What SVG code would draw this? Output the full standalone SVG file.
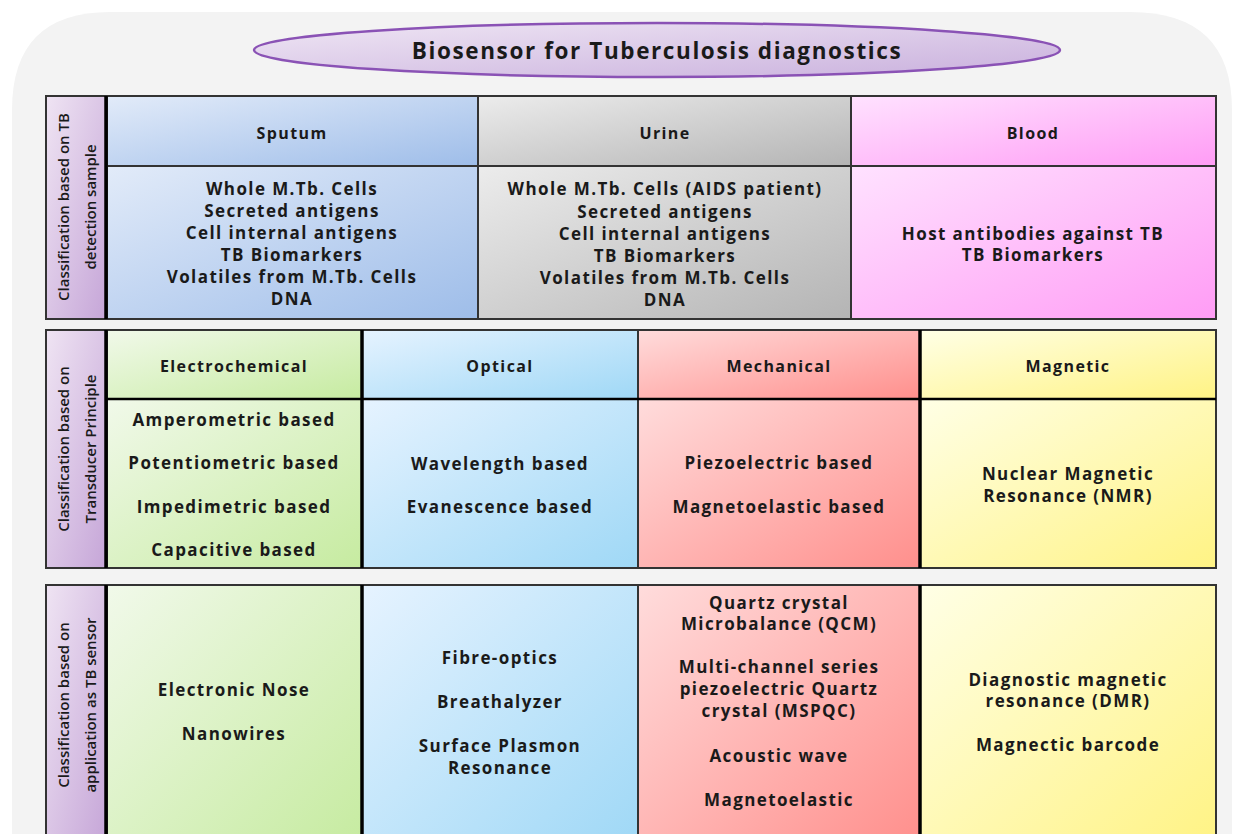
<svg xmlns="http://www.w3.org/2000/svg" width="1241" height="834" viewBox="0 0 1241 834">
<defs>
<linearGradient id="gLab" x1="0" y1="0" x2="1" y2="1"><stop offset="0" stop-color="#efe4f3"/><stop offset="1" stop-color="#c6a6d8"/></linearGradient>
<linearGradient id="gBlue" x1="0" y1="0" x2="1" y2="1"><stop offset="0" stop-color="#e2ebf9"/><stop offset="1" stop-color="#9ebde9"/></linearGradient>
<linearGradient id="gGray" x1="0" y1="0" x2="1" y2="1"><stop offset="0" stop-color="#ececec"/><stop offset="1" stop-color="#b4b4b4"/></linearGradient>
<linearGradient id="gPink" x1="0" y1="0" x2="1" y2="1"><stop offset="0" stop-color="#ffe2ff"/><stop offset="1" stop-color="#ff9cf5"/></linearGradient>
<linearGradient id="gGreen" x1="0" y1="0" x2="1" y2="1"><stop offset="0" stop-color="#f1f9ea"/><stop offset="1" stop-color="#c6eba0"/></linearGradient>
<linearGradient id="gCyan" x1="0" y1="0" x2="1" y2="1"><stop offset="0" stop-color="#e6f3ff"/><stop offset="1" stop-color="#9fd8f6"/></linearGradient>
<linearGradient id="gRed" x1="0" y1="0" x2="1" y2="1"><stop offset="0" stop-color="#ffdcdc"/><stop offset="1" stop-color="#ff8f8c"/></linearGradient>
<linearGradient id="gYel" x1="0" y1="0" x2="1" y2="1"><stop offset="0" stop-color="#ffffe6"/><stop offset="1" stop-color="#fff384"/></linearGradient>
<linearGradient id="gTitle" x1="0" y1="0" x2="1" y2="1"><stop offset="0" stop-color="#efe6f4"/><stop offset="1" stop-color="#c9b0dd"/></linearGradient>
</defs>
<style>
.cell{stroke:#333;stroke-width:2}
.sep{stroke:#000;stroke-width:3.5}
.t{font-family:"Open Sans",sans-serif;font-weight:700;font-size:17px;letter-spacing:1.4px;fill:#1a1a1a;text-anchor:middle}
.h{font-family:"Open Sans",sans-serif;font-weight:700;font-size:16px;letter-spacing:1.4px;fill:#1a1a1a;text-anchor:middle}
.lab{font-family:"Open Sans",sans-serif;font-weight:600;font-size:15px;fill:#1a1a1a;text-anchor:middle}
.title{font-family:"Open Sans",sans-serif;font-weight:700;font-size:22.5px;letter-spacing:1.6px;fill:#1a1a1a;text-anchor:middle}
</style>
<rect width="1241" height="834" fill="#ffffff"/>
<path d="M12,110 Q12,12 110,12 L1130,12 Q1232,12 1232,110 L1232,900 L12,900 Z" fill="#f3f3f3"/>

<g id="title">
<ellipse cx="657" cy="50" rx="403" ry="27" fill="url(#gTitle)" stroke="#8a52b5" stroke-width="2.5"/>
<text class="title" x="657" y="59">Biosensor for Tuberculosis diagnostics</text>
</g>

<!-- Section 1 -->
<g id="label-sample">
<rect class="cell" x="46" y="96" width="60" height="223" fill="url(#gLab)"/>
<text class="lab" transform="translate(69,207) rotate(-90)"><tspan x="0" y="0">Classification based on TB</tspan><tspan x="0" y="27">detection sample</tspan></text>
</g>
<g id="sputum-head"><rect class="cell" x="107" y="96" width="371" height="70" fill="url(#gBlue)"/><text class="h" x="292" y="139">Sputum</text></g>
<g id="urine-head"><rect class="cell" x="478" y="96" width="373" height="70" fill="url(#gGray)"/><text class="h" x="665" y="139">Urine</text></g>
<g id="blood-head"><rect class="cell" x="851" y="96" width="365" height="70" fill="url(#gPink)"/><text class="h" x="1033" y="139">Blood</text></g>
<g id="sputum-body"><rect class="cell" x="107" y="166" width="371" height="153" fill="url(#gBlue)"/>
<text class="t" x="292" y="195">Whole M.Tb. Cells</text>
<text class="t" x="292" y="217">Secreted antigens</text>
<text class="t" x="292" y="239">Cell internal antigens</text>
<text class="t" x="292" y="261">TB Biomarkers</text>
<text class="t" x="292" y="283">Volatiles from M.Tb. Cells</text>
<text class="t" x="292" y="305">DNA</text></g>
<g id="urine-body"><rect class="cell" x="478" y="166" width="373" height="153" fill="url(#gGray)"/>
<text class="t" x="665" y="195">Whole M.Tb. Cells (AIDS patient)</text>
<text class="t" x="665" y="218">Secreted antigens</text>
<text class="t" x="665" y="240">Cell internal antigens</text>
<text class="t" x="665" y="262">TB Biomarkers</text>
<text class="t" x="665" y="284">Volatiles from M.Tb. Cells</text>
<text class="t" x="665" y="306">DNA</text></g>
<g id="blood-body"><rect class="cell" x="851" y="166" width="365" height="153" fill="url(#gPink)"/>
<text class="t" x="1033" y="240">Host antibodies against TB</text>
<text class="t" x="1033" y="261">TB Biomarkers</text></g>
<line class="sep" x1="106" y1="96" x2="106" y2="319"/>

<!-- Section 2 -->
<g id="label-transducer">
<rect class="cell" x="46" y="330" width="60" height="238" fill="url(#gLab)"/>
<text class="lab" transform="translate(69,449) rotate(-90)"><tspan x="0" y="0">Classification based on</tspan><tspan x="0" y="27">Transducer Principle</tspan></text>
</g>
<g id="electro-head"><rect class="cell" x="107" y="330" width="255" height="69" fill="url(#gGreen)"/><text class="h" x="234" y="372">Electrochemical</text></g>
<g id="optical-head"><rect class="cell" x="362" y="330" width="276" height="69" fill="url(#gCyan)"/><text class="h" x="500" y="372">Optical</text></g>
<g id="mech-head"><rect class="cell" x="638" y="330" width="282" height="69" fill="url(#gRed)"/><text class="h" x="779" y="372">Mechanical</text></g>
<g id="magnetic-head"><rect class="cell" x="920" y="330" width="296" height="69" fill="url(#gYel)"/><text class="h" x="1068" y="372">Magnetic</text></g>
<g id="electro-body"><rect class="cell" x="107" y="399" width="255" height="169" fill="url(#gGreen)"/>
<text class="t" x="234" y="426">Amperometric based</text>
<text class="t" x="234" y="469">Potentiometric based</text>
<text class="t" x="234" y="513">Impedimetric based</text>
<text class="t" x="234" y="556">Capacitive based</text></g>
<g id="optical-body"><rect class="cell" x="362" y="399" width="276" height="169" fill="url(#gCyan)"/>
<text class="t" x="500" y="470">Wavelength based</text>
<text class="t" x="500" y="513">Evanescence based</text></g>
<g id="mech-body"><rect class="cell" x="638" y="399" width="282" height="169" fill="url(#gRed)"/>
<text class="t" x="779" y="469">Piezoelectric based</text>
<text class="t" x="779" y="513">Magnetoelastic based</text></g>
<g id="magnetic-body"><rect class="cell" x="920" y="399" width="296" height="169" fill="url(#gYel)"/>
<text class="t" x="1068" y="480">Nuclear Magnetic</text>
<text class="t" x="1068" y="502">Resonance (NMR)</text></g>
<line class="sep" x1="106" y1="330" x2="106" y2="568"/>
<line class="sep" x1="362" y1="330" x2="362" y2="568"/>
<line class="sep" x1="920" y1="330" x2="920" y2="568"/>
<line class="sep" x1="107" y1="399" x2="1216" y2="399" style="stroke-width:2.5"/>

<!-- Section 3 -->
<g id="label-application">
<rect class="cell" x="46" y="585" width="60" height="260" fill="url(#gLab)"/>
<text class="lab" transform="translate(69,705) rotate(-90)"><tspan x="0" y="0">Classification based on</tspan><tspan x="0" y="27">application as TB sensor</tspan></text>
</g>
<g id="electro-app"><rect class="cell" x="107" y="585" width="255" height="260" fill="url(#gGreen)"/>
<text class="t" x="234" y="696">Electronic Nose</text>
<text class="t" x="234" y="740">Nanowires</text></g>
<g id="optical-app"><rect class="cell" x="362" y="585" width="276" height="260" fill="url(#gCyan)"/>
<text class="t" x="500" y="664">Fibre-optics</text>
<text class="t" x="500" y="708">Breathalyzer</text>
<text class="t" x="500" y="752">Surface Plasmon</text>
<text class="t" x="500" y="774">Resonance</text></g>
<g id="mech-app"><rect class="cell" x="638" y="585" width="282" height="260" fill="url(#gRed)"/>
<text class="t" x="779" y="609">Quartz crystal</text>
<text class="t" x="779" y="630">Microbalance (QCM)</text>
<text class="t" x="779" y="673">Multi-channel series</text>
<text class="t" x="779" y="695">piezoelectric Quartz</text>
<text class="t" x="779" y="717">crystal (MSPQC)</text>
<text class="t" x="779" y="762">Acoustic wave</text>
<text class="t" x="779" y="806">Magnetoelastic</text></g>
<g id="magnetic-app"><rect class="cell" x="920" y="585" width="296" height="260" fill="url(#gYel)"/>
<text class="t" x="1068" y="686">Diagnostic magnetic</text>
<text class="t" x="1068" y="707">resonance (DMR)</text>
<text class="t" x="1068" y="751">Magnectic barcode</text></g>
<line class="sep" x1="106" y1="585" x2="106" y2="845"/>
<line class="sep" x1="362" y1="585" x2="362" y2="845"/>
<line class="sep" x1="920" y1="585" x2="920" y2="845"/>
</svg>
